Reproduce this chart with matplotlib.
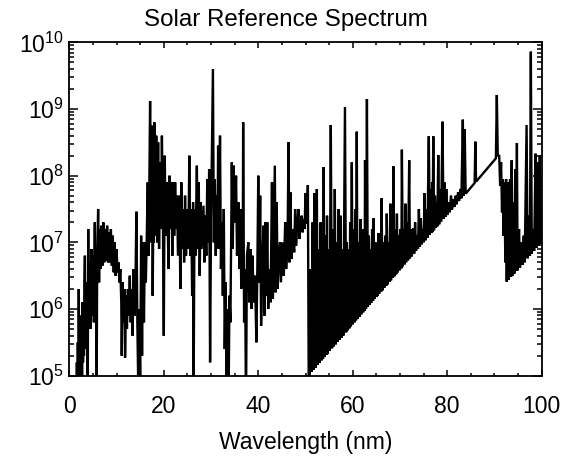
import numpy as np
import matplotlib
matplotlib.use("Agg")
import matplotlib.pyplot as plt
from matplotlib.ticker import MultipleLocator, LogLocator, NullFormatter, FixedLocator

plt.rcParams['font.family'] = ['Liberation Sans', 'DejaVu Sans']
plt.rcParams['mathtext.default'] = 'regular'

# ---- Spectrum samples (wavelength nm, log10 irradiance) ----
# Soft X-ray / XUV, 0-17 nm
wl_xuv = [
    0.0, 1.4, 1.5, 1.6, 1.7, 1.8, 1.9, 2.0, 2.1, 2.2,
    2.3, 2.4, 2.5, 2.6, 2.7, 2.8, 2.9, 3.0, 3.1, 3.2,
    3.3, 3.4, 3.5, 3.6, 3.7, 3.8, 3.9, 4.0, 4.1, 4.2,
    4.3, 4.4, 4.5, 4.6, 4.7, 4.8, 4.9, 5.0, 5.1, 5.2,
    5.3, 5.4, 5.5, 5.6, 5.7, 5.8, 5.9, 6.1, 6.3, 6.5,
    6.6, 6.8, 7.0, 7.2, 7.4, 7.6, 7.8, 8.0, 8.2, 8.4,
    8.6, 8.8, 9.0, 9.2, 9.4, 9.6, 9.8, 10.0, 10.2, 10.4,
    10.6, 10.8, 11.0, 11.1, 11.3, 11.5, 11.7, 11.8, 12.0, 12.2,
    12.4, 12.6, 12.8, 13.0, 13.2, 13.4, 13.6, 13.8, 14.0, 14.2,
    14.4, 14.6, 14.8, 15.0, 15.2, 15.4, 15.6, 15.8, 16.0, 16.2,
    16.4, 16.6, 16.8]
lf_xuv = [
    4.0, 4.0, 4.0, 5.2, 4.3, 5.5, 4.5, 6.3, 4.8, 5.7,
    4.6, 5.9, 5.0, 5.6, 4.9, 6.1, 5.2, 6.0, 5.3, 6.4,
    6.8, 5.5, 6.4, 5.4, 6.3, 5.6, 4.6, 7.2, 5.9, 6.6,
    5.8, 6.7, 5.7, 6.5, 6.9, 5.9, 6.6, 6.0, 6.8, 5.8,
    6.6, 7.3, 6.1, 6.7, 6.0, 5.0, 6.8, 7.5, 6.4, 7.2,
    6.6, 7.25, 6.65, 7.3, 6.7, 7.2, 6.72, 7.25, 6.7, 7.15,
    6.7, 7.2, 6.65, 7.1, 6.55, 7.0, 6.5, 6.9, 6.55, 6.7,
    6.4, 6.6, 6.1, 5.3, 6.4, 5.8, 6.3, 5.27, 6.2, 5.7,
    6.3, 5.9, 6.5, 5.8, 6.3, 5.6, 6.6, 5.9, 6.4, 7.46,
    5.8, 4.8, 6.0, 4.8, 7.1, 5.3, 7.0, 5.8, 7.0, 6.4,
    7.1, 7.9, 6.8]

# Coronal iron lines, 17-30.6 nm
wl_fe = [
    17.1, 17.3, 17.5, 17.65, 17.8, 17.9, 18.0, 18.2, 18.4, 18.6,
    18.8, 19.0, 19.2, 19.4, 19.6, 19.8, 20.0, 20.2, 20.4, 20.6,
    20.8, 21.0, 21.2, 21.4, 21.6, 21.8, 22.0, 22.2, 22.4, 22.6,
    22.8, 23.0, 23.3, 23.5, 23.7, 23.9, 24.1, 24.3, 24.5, 24.7,
    25.0, 25.2, 25.4, 25.6, 25.8, 26.0, 26.2, 26.3, 26.5, 26.7,
    27.0, 27.2, 27.4, 27.6, 27.8, 28.0, 28.4, 28.6, 28.8, 29.0,
    29.2, 29.4, 29.6, 29.8, 30.0, 30.4, 30.6]
lf_fe = [
    9.12, 7.0, 8.75, 6.2, 7.6, 7.0, 8.8, 7.1, 8.6, 7.0,
    8.5, 6.9, 8.2, 7.2, 8.6, 7.4, 5.6, 8.3, 7.1, 7.9,
    7.4, 6.6, 8.0, 7.2, 7.9, 6.8, 7.9, 7.1, 7.9, 7.2,
    7.7, 6.8, 7.7, 6.3, 7.9, 6.9, 7.5, 6.7, 7.7, 6.8,
    7.5, 6.9, 8.3, 6.8, 7.5, 6.2, 7.6, 4.5, 7.5, 6.8,
    8.15, 6.9, 7.9, 6.5, 7.6, 6.9, 7.55, 6.7, 7.4, 6.8,
    7.95, 7.0, 8.1, 5.2, 7.3, 9.6, 7.0]

# 30.8-50.7 nm
wl_mid = [
    30.8, 31.0, 31.2, 31.35, 31.5, 31.7, 31.9, 32.1, 32.3, 32.5,
    32.7, 32.9, 33.1, 33.3, 33.5, 33.7, 33.9, 34.1, 34.4, 34.6,
    34.8, 35.0, 35.3, 35.5, 35.8, 36.0, 36.2, 36.4, 36.6, 36.7,
    36.8, 37.0, 37.2, 37.4, 37.6, 37.9, 38.1, 38.4, 38.6, 38.8,
    39.0, 39.3, 39.6, 39.8, 40.0, 40.2, 40.4, 40.6, 40.8, 41.1,
    41.3, 41.5, 41.7, 41.9, 42.1, 42.4, 42.6, 42.9, 43.1, 43.5,
    43.7, 43.9, 44.1, 44.4, 44.6, 44.8, 45.1, 45.4, 45.7, 45.9,
    46.2, 46.4, 46.6, 46.8, 47.0, 47.3, 47.6, 47.8, 48.0, 48.3,
    48.5, 48.7, 49.0, 49.2, 49.4, 49.6, 49.8, 50.0, 50.2, 50.5,
    50.7]
lf_mid = [
    7.95, 6.8, 7.7, 6.9, 8.45, 6.9, 8.6, 6.6, 7.3, 6.2,
    7.5, 5.4, 6.4, 4.5, 6.0, 4.5, 6.2, 5.8, 8.2, 6.9,
    8.15, 7.3, 8.0, 6.8, 7.6, 6.6, 7.5, 6.3, 7.2, 6.4,
    8.8, 5.8, 6.6, 4.5, 6.8, 7.0, 6.1, 6.9, 6.0, 6.8,
    6.1, 6.5, 5.5, 6.6, 8.0, 6.4, 7.7, 5.75, 6.5, 7.25,
    5.9, 7.3, 6.2, 7.3, 6.0, 6.6, 6.1, 7.9, 6.15, 8.15,
    6.25, 7.6, 6.3, 6.8, 7.0, 6.4, 7.0, 6.5, 7.3, 6.6,
    7.0, 8.5, 6.7, 7.75, 6.75, 7.2, 6.85, 7.5, 6.95, 7.3,
    7.5, 7.05, 7.3, 7.4, 7.15, 7.35, 7.2, 7.74, 7.28, 7.86,
    4.5]

# Lyman continuum region, 50.9-91.0 nm
wl_lyc = [
    50.9, 51.1, 51.3, 51.5, 51.7, 51.9, 52.1, 52.4, 52.6, 52.8,
    53.0, 53.2, 53.4, 53.55, 53.7, 53.85, 54.0, 54.2, 54.4, 54.55,
    54.7, 54.9, 55.1, 55.35, 55.6, 55.8, 56.0, 56.2, 56.4, 56.6,
    56.8, 57.0, 57.2, 57.4, 57.6, 57.8, 58.0, 58.35, 58.6, 58.75,
    58.9, 59.1, 59.3, 59.45, 59.6, 59.8, 60.0, 60.2, 60.4, 60.55,
    60.7, 60.85, 61.0, 61.2, 61.4, 61.6, 61.8, 62.0, 62.2, 62.35,
    62.5, 62.6, 62.8, 63.0, 63.2, 63.4, 63.6, 63.75, 63.9, 64.1,
    64.3, 64.4, 64.6, 64.8, 65.0, 65.15, 65.3, 65.45, 65.6, 65.8,
    66.0, 66.1, 66.3, 66.5, 66.7, 66.9, 67.1, 67.2, 67.4, 67.6,
    67.8, 67.95, 68.1, 68.3, 68.5, 68.6, 68.8, 69.0, 69.2, 69.35,
    69.5, 69.7, 69.9, 70.1, 70.3, 70.4, 70.6, 70.8, 71.0, 71.15,
    71.3, 71.5, 71.7, 71.95, 72.1, 72.3, 72.5, 72.8, 73.0, 73.2,
    73.4, 73.6, 73.8, 74.0, 74.2, 74.4, 74.6, 74.8, 75.0, 75.2,
    75.4, 75.6, 75.8, 76.1, 76.3, 76.5, 76.7, 76.8, 76.9, 77.05,
    77.2, 77.4, 77.6, 77.75, 77.9, 78.1, 78.3, 78.5, 78.7, 79.0,
    79.2, 79.4, 79.6, 79.8, 80.0, 80.3, 80.5, 80.8, 81.0, 81.3,
    81.5, 81.8, 82.0, 82.3, 82.5, 82.8, 83.0, 83.3, 83.5, 83.7,
    83.9, 85.8, 85.95, 86.1, 90.3, 90.5, 90.7, 91.0]
lf_lyc = [
    5.02, 6.6, 5.055, 7.3, 5.09, 7.74, 5.12, 7.8, 5.16, 6.9,
    5.19, 7.3, 5.23, 7.0, 5.25, 8.13, 5.28, 7.1, 5.31, 7.4,
    5.33, 6.9, 5.37, 8.76, 5.41, 7.2, 5.44, 7.8, 5.47, 7.0,
    5.51, 7.5, 5.54, 7.4, 5.57, 6.9, 5.60, 9.03, 5.65, 7.0,
    5.68, 6.9, 5.71, 7.3, 5.74, 8.2, 5.77, 7.2, 5.80, 7.5,
    5.83, 8.66, 5.85, 7.0, 5.88, 7.35, 5.92, 7.2, 5.95, 7.0,
    5.97, 8.23, 6.0, 9.15, 6.03, 7.1, 6.06, 6.9, 6.09, 7.2,
    6.12, 7.36, 6.15, 7.0, 6.18, 6.9, 6.20, 7.14, 6.23, 6.9,
    6.26, 7.66, 6.28, 7.0, 6.32, 7.1, 6.35, 7.43, 6.37, 7.0,
    6.41, 7.58, 6.43, 7.1, 6.47, 8.14, 6.49, 7.2, 6.52, 7.43,
    6.55, 7.1, 6.58, 7.2, 6.61, 8.39, 6.64, 7.2, 6.67, 7.58,
    6.70, 7.3, 6.73, 8.23, 6.76, 7.2, 6.79, 7.21, 6.83, 7.3,
    6.87, 7.1, 6.90, 7.5, 6.93, 7.36, 6.97, 7.2, 7.0, 7.74,
    7.03, 7.5, 7.07, 8.59, 7.11, 7.8, 7.14, 7.9, 7.16, 8.59,
    7.18, 7.7, 7.22, 7.6, 7.24, 8.31, 7.27, 7.8, 7.31, 8.81,
    7.35, 7.9, 7.38, 7.8, 7.41, 7.6, 7.45, 7.7, 7.49, 7.65,
    7.53, 7.7, 7.57, 7.75, 7.62, 7.8, 7.66, 8.84, 7.70, 8.7,
    7.73, 7.89, 8.51, 7.91, 8.26, 9.21, 8.29, 8.31]

# Beyond the Lyman edge, 91.2-100 nm
wl_far = [
    91.2, 91.4, 91.6, 91.75, 91.9, 92.1, 92.3, 92.45, 92.6, 92.8,
    93.0, 93.3, 93.5, 93.65, 93.8, 94.0, 94.2, 94.4, 94.6, 94.75,
    94.9, 95.2, 95.4, 95.7, 95.9, 96.2, 96.4, 96.8, 97.0, 97.3,
    97.5, 97.7, 97.9, 98.2, 98.4, 98.7, 98.9, 99.2, 99.4, 99.6,
    99.8, 100.0]
lf_far = [
    7.85, 8.2, 7.45, 7.95, 7.1, 7.9, 6.7, 7.95, 6.41, 7.9,
    6.44, 7.95, 6.48, 8.23, 6.5, 7.6, 6.53, 8.1, 6.57, 8.49,
    6.58, 7.2, 6.62, 7.0, 6.66, 7.1, 6.7, 8.76, 6.76, 7.4,
    6.8, 9.86, 6.83, 7.2, 6.87, 8.33, 6.92, 8.2, 6.95, 8.3,
    6.98, 7.2]

x_major = [0, 20, 40, 60, 80, 100]

wavelength = np.concatenate([wl_xuv, wl_fe, wl_mid, wl_lyc, wl_far])
irradiance = 10.0 ** np.concatenate([lf_xuv, lf_fe, lf_mid, lf_lyc, lf_far])

fig = plt.figure(figsize=(5.71, 4.58), dpi=100)
ax = fig.add_axes([0.1214, 0.1797, 0.8273, 0.7279])
ax.plot(wavelength, irradiance, color='black', lw=1.7, solid_joinstyle='miter')
ax.set_yscale('log')
ax.set_xlim(0, 100)
ax.set_ylim(1e5, 1e10)

ax.xaxis.set_major_locator(FixedLocator(x_major))
ax.xaxis.set_minor_locator(MultipleLocator(5))
ax.yaxis.set_major_locator(LogLocator(base=10, numticks=10))
ax.yaxis.set_minor_locator(LogLocator(base=10, subs=np.arange(2, 10), numticks=20))
ax.yaxis.set_minor_formatter(NullFormatter())

ax.tick_params(axis='both', which='both', direction='in', top=True, right=True,
               labelsize=16.5, width=1.1, color='black')
ax.tick_params(axis='x', which='major', length=4.5, pad=14)
ax.tick_params(axis='x', which='minor', length=2.3)
ax.tick_params(axis='y', which='major', length=6.8, pad=4)
ax.tick_params(axis='y', which='minor', length=3.4)
for s in ax.spines.values():
    s.set_linewidth(1.3)

ax.set_title('Solar Reference Spectrum', fontsize=17.4, pad=11.5, x=0.4577)
ax.set_xlabel('Wavelength (nm)', fontsize=16.5, labelpad=9)

fig.savefig('out.png', dpi=100)
